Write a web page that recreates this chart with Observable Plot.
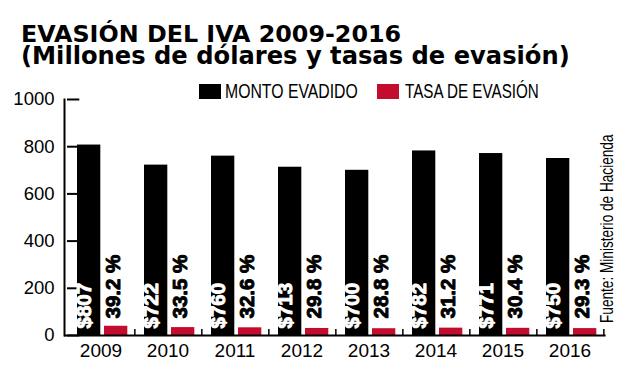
<!DOCTYPE html>
<html>
<head>
<meta charset="utf-8">
<script src="https://cdn.jsdelivr.net/npm/d3@7"></script>
<script src="https://cdn.jsdelivr.net/npm/@observablehq/plot@0.6"></script>
<style>
  body { margin: 0; background: #fff; }
  #wrap { position: relative; width: 627px; height: 384px; overflow: hidden; font-family: "Liberation Sans", Arial, sans-serif; color: #000; }
  #chart { position: absolute; left: 0; top: 0; }
  .title { position: absolute; left: 21px; white-space: nowrap; font-family: "DejaVu Sans", sans-serif; font-weight: bold; line-height: 0.9; }
  .sw { position: absolute; top: 84px; width: 22px; height: 15px; }
  .lg { position: absolute; top: 82px; font-size: 19.5px; line-height: 1; white-space: nowrap; transform-origin: 0 50%; }
  #source { position: absolute; left: 598px; top: 323px; font-size: 18.5px; line-height: 1; white-space: nowrap; transform-origin: 0 0; transform: rotate(-90deg) scaleX(0.736); }
  .ch g[aria-label="text"] text { font-weight: bold; font-family: "Liberation Sans", Arial, sans-serif; }
</style>
</head>
<body>
<div id="wrap">
  <div id="chart"></div>
  <div class="title" style="top:24.4px;font-size:23.8px;">EVASIÓN DEL IVA 2009-2016</div>
  <div class="title" style="top:45.8px;font-size:24.2px;">(Millones de dólares y tasas de evasión)</div>
  <div class="sw" id="sw1" style="left:199px;"></div>
  <div class="lg" id="lg1" style="left:225px;transform:scaleX(0.81);"></div>
  <div class="sw" id="sw2" style="left:377px;"></div>
  <div class="lg" id="lg2" style="left:405px;transform:scaleX(0.78);"></div>
  <div id="source">Fuente: Ministerio de Hacienda</div>
</div>
<script>
const years = ["2009", "2010", "2011", "2012", "2013", "2014", "2015", "2016"];
const monto = [807, 722, 760, 713, 700, 782, 771, 750];
const tasa = [39.2, 33.5, 32.6, 29.8, 28.8, 31.2, 30.4, 29.3];
const yTicks = [0, 200, 400, 600, 800, 1000];
const seriesNames = ["MONTO EVADIDO", "TASA DE EVASIÓN"];
const seriesColors = ["#000000", "#c40d2e"];

const data = years.map((year, i) => ({year, monto: monto[i], tasa: tasa[i]}));

document.getElementById("sw1").style.background = seriesColors[0];
document.getElementById("sw2").style.background = seriesColors[1];
document.getElementById("lg1").textContent = seriesNames[0];
document.getElementById("lg2").textContent = seriesNames[1];

const W = 627, H = 384, mL = 64, mR = 21.4, mT = 99, mB = 49;
const step = (W - mL - mR) / years.length;

const chart = Plot.plot({
  className: "ch",
  width: W,
  height: H,
  marginTop: mT,
  marginBottom: mB,
  marginLeft: mL,
  marginRight: mR,
  style: {fontFamily: "'Liberation Sans', Arial, sans-serif", background: "white", color: "#000"},
  x: {type: "band", domain: years, padding: 0, label: null},
  y: {domain: [0, 1000], label: null},
  marks: [
    // inward y ticks (13px long from the axis line)
    Plot.tickY(yTicks, {y: d => d, x: () => years[0], insetRight: step - 13, strokeWidth: 2}),
    Plot.axisY(yTicks, {tickSize: 0, tickPadding: 10, fontSize: 18.5, tickFormat: d => String(d), label: null}),
    Plot.barY(data, {x: "year", y: "monto", fill: seriesColors[0], insetLeft: 10, insetRight: step - 34}),
    Plot.barY(data, {x: "year", y: "tasa", fill: seriesColors[1], insetLeft: 37, insetRight: step - 61}),
    Plot.text(data, {x: "year", frameAnchor: "bottom", text: d => "$" + d.monto, rotate: -90, textAnchor: "start",
      dx: -10, dy: -7, fill: "white", stroke: "white", strokeWidth: 0.9, fontWeight: "bold", fontSize: 20.5}),
    Plot.text(data, {x: "year", frameAnchor: "bottom", text: d => d.tasa.toFixed(1) + " %", rotate: -90, textAnchor: "start",
      dx: 18.5, dy: -17, fill: "#000", stroke: "#000", strokeWidth: 0.9, fontWeight: "bold", fontSize: 20.5}),
    Plot.frame({anchor: "left", strokeWidth: 2}),
    Plot.ruleY([0], {strokeWidth: 2}),
    // upward x ticks at the right boundary of each year cell
    Plot.tickX(years, {x: d => d, dx: step / 2, insetTop: (H - mT - mB) - 6, strokeWidth: 1.5}),
    Plot.axisX({tickSize: 0, tickPadding: 8, fontSize: 19, label: null})
  ]
});
document.getElementById("chart").appendChild(chart);
</script>
</body>
</html>
